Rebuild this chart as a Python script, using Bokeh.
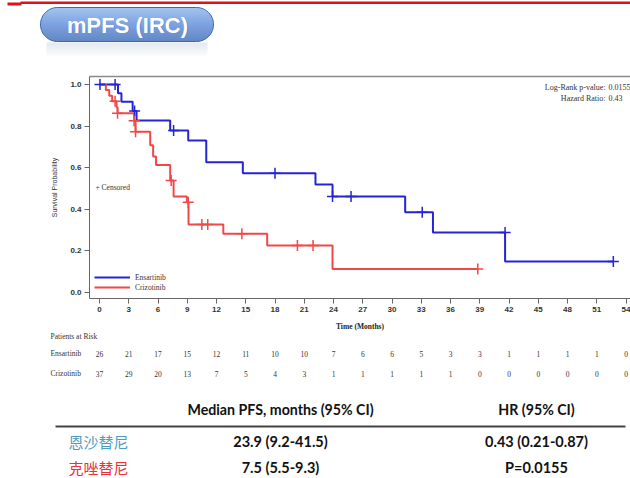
import numpy as np
from bokeh.plotting import figure
from bokeh.models import (Range1d, LinearAxis, FixedTicker, NumeralTickFormatter,
                          Legend, LegendItem)
from bokeh.core.properties import value
from bokeh.embed import file_html
from bokeh.resources import INLINE

# ---------------- data ----------------
# Kaplan-Meier PFS steps: time (months) at which survival changes, survival after it
ens_time = [0, 1.9, 2.25, 3.4, 3.8, 7.25, 9.1, 10.95, 14.7, 22.15, 23.9, 31.35, 34.2, 41.6, 52.7]
ens_surv = [1.0, 0.958, 0.917, 0.873, 0.827, 0.778, 0.730, 0.626, 0.573, 0.519, 0.461, 0.385, 0.287, 0.148, 0.148]
ens_cens_time = [0.05, 1.6, 3.6, 7.6, 18.0, 23.9, 25.8, 33.1, 41.6, 52.7]
ens_cens_surv = [1.0, 1.0, 0.873, 0.778, 0.573, 0.461, 0.461, 0.385, 0.287, 0.148]

criz_time = [0, 0.65, 1.0, 1.3, 1.75, 1.85, 3.55, 3.7, 5.2, 5.5, 5.8, 7.25, 7.6, 8.96, 9.13,
             12.7, 17.2, 23.9, 38.8]
criz_surv = [1.0, 0.973, 0.946, 0.919, 0.891, 0.862, 0.826, 0.772, 0.707, 0.653, 0.613, 0.538,
             0.461, 0.433, 0.326, 0.281, 0.225, 0.112, 0.112]
criz_cens_time = [1.6, 1.85, 3.55, 3.7, 7.35, 9.1, 10.5, 11.1, 14.6, 20.3, 21.9, 38.8]
criz_cens_surv = [0.919, 0.862, 0.826, 0.772, 0.538, 0.433, 0.326, 0.326, 0.281, 0.225, 0.225, 0.112]

x_ticks = list(range(0, 55, 3))
y_ticks = [0.0, 0.2, 0.4, 0.6, 0.8, 1.0]

risk_times = list(range(0, 55, 3))
ens_at_risk = [26, 21, 17, 15, 12, 11, 10, 10, 7, 6, 6, 5, 3, 3, 1, 1, 1, 1, 0]
criz_at_risk = [37, 29, 20, 13, 7, 5, 4, 3, 1, 1, 1, 1, 1, 0, 0, 0, 0, 0, 0]

arm_names_en = ["Ensartinib", "Crizotinib"]
arm_names_cn = ["恩沙替尼", "克唑替尼"]
median_pfs = ["23.9 (9.2-41.5)", "7.5 (5.5-9.3)"]
hr_column = ["0.43 (0.21-0.87)", "P=0.0155"]
table_headers = ["Median PFS, months (95% CI)", "HR (95% CI)"]
stat_labels = ["Log-Rank p-value:", "Hazard Ratio:"]
stat_values = ["0.0155", "0.43"]

# ---------------- page geometry ----------------
W, H = 630, 478
BLUE = "#2424d4"
RED = "#f04848"
SERIF = "Liberation Serif"
SANS = "Liberation Sans"

PX0, PPM = 99.0, 9.75      # page x of month 0, pixels per month
PY0, PPV = 291.7, 207.7    # page y of survival 0, pixels per unit survival
FR_L, FR_T, FR_R, FR_B = 89, 76, 630, 298   # plot box on the page

t_left = (FR_L - PX0) / PPM
t_right = (FR_R - PX0) / PPM
s_bottom = (PY0 - FR_B) / PPV
s_top = (PY0 - FR_T) / PPV

p = figure(width=W, height=H,
           x_range=Range1d(-PX0 / PPM, (W - PX0) / PPM),
           y_range=Range1d((PY0 - H) / PPV, PY0 / PPV),
           output_backend="svg", toolbar_location=None,
           x_axis_type=None, y_axis_type=None, min_border=0)
p.outline_line_color = None
p.grid.visible = False
p.extra_x_ranges = {"px": Range1d(0, W)}
p.extra_y_ranges = {"px": Range1d(H, 0)}
PXR = dict(x_range_name="px", y_range_name="px")

# ---------------- header with title pill ----------------
p.quad(left=20, right=W, top=1, bottom=3.5, fill_color="#e01020", line_color=None, **PXR)
p.quad(left=7, right=21, top=2, bottom=5, fill_color="#e01020", line_color=None, **PXR)

pl, pr, pt, pb = 40.0, 213.0, 7.0, 41.0
rad = (pb - pt) / 2
cy = (pt + pb) / 2
top_c = np.array([136, 176, 236])
mid_c = np.array([82, 132, 214])
bot_c = np.array([50, 96, 178])
edges = np.linspace(pt, pb, 69)
lefts, rights, tops, bots, cols = [], [], [], [], []
for a, b in zip(edges[:-1], edges[1:]):
    ym = (a + b) / 2
    dy = ym - cy
    dx = rad - np.sqrt(max(rad ** 2 - dy ** 2, 0.0))
    t = (ym - pt) / (pb - pt)
    c = top_c + (mid_c - top_c) * (t / 0.5) if t < 0.5 else mid_c + (bot_c - mid_c) * ((t - 0.5) / 0.5)
    lefts.append(pl + dx)
    rights.append(pr - dx)
    tops.append(a)
    bots.append(b + 0.05)
    cols.append("#%02x%02x%02x" % tuple(int(v) for v in c))
p.quad(left=lefts, right=rights, top=tops, bottom=bots, fill_color=cols, line_color=None, **PXR)

ang1 = np.linspace(np.pi / 2, 3 * np.pi / 2, 40)
ang2 = np.linspace(-np.pi / 2, np.pi / 2, 40)
ox = list(pl + rad + rad * np.cos(ang1)) + list(pr - rad + rad * np.cos(ang2))
oy = list(cy - rad * np.sin(ang1)) + list(cy - rad * np.sin(ang2))
p.patch(ox, oy, fill_color=None, line_color="#3b66ad", line_width=1, **PXR)

# soft reflection under the pill
refl = np.linspace(42, 57, 16)
p.quad(left=46, right=207, top=list(refl[:-1]), bottom=list(refl[1:]),
       fill_color="#c9d3e4", fill_alpha=list(np.linspace(0.55, 0.0, 15)), line_color=None, **PXR)

p.text(x=[127.8], y=[25.3], text=["mPFS (IRC)"], text_font=value(SANS), text_font_style="bold",
       text_font_size="22px", text_color="#2b4e8c", text_alpha=0.45,
       text_align="center", text_baseline="middle", **PXR)
p.text(x=[127], y=[24.5], text=["mPFS (IRC)"], text_font=value(SANS), text_font_style="bold",
       text_font_size="22px", text_color="white",
       text_align="center", text_baseline="middle", **PXR)

# ---------------- Kaplan-Meier plot ----------------
xax = LinearAxis(ticker=FixedTicker(ticks=x_ticks), fixed_location=s_bottom,
                 bounds=(t_left, t_right), axis_label="Time (Months)")
yax = LinearAxis(ticker=FixedTicker(ticks=y_ticks), fixed_location=t_left,
                 bounds=(s_bottom, s_top), formatter=NumeralTickFormatter(format="0.0"),
                 axis_label="Survival Probability")
for ax in (xax, yax):
    ax.axis_line_color = "#666666"
    ax.major_tick_line_color = "#666666"
    ax.major_tick_out = 5
    ax.major_tick_in = 0
    ax.minor_tick_line_color = None
    ax.major_label_text_font = SANS
    ax.major_label_text_font_style = "bold"
    ax.major_label_text_font_size = "8px"
    ax.major_label_text_color = "#333333"
xax.major_label_standoff = 3
xax.axis_label_text_font = SERIF
xax.axis_label_text_font_style = "bold"
xax.axis_label_text_font_size = "7.5px"
xax.axis_label_text_color = "#222222"
xax.axis_label_standoff = 7
yax.major_label_standoff = 3
yax.axis_label_text_font = SANS
yax.axis_label_text_font_style = "normal"
yax.axis_label_text_font_size = "7px"
yax.axis_label_text_color = "#333333"
yax.axis_label_standoff = 9
p.add_layout(xax, "below")
p.add_layout(yax, "left")

# top edge of the plot box
p.segment(x0=[t_left], y0=[s_top], x1=[t_right], y1=[s_top], line_color="#8a8a8a", line_width=1.5)

r_ens = p.step(ens_time, ens_surv, mode="after", line_color=BLUE, line_width=2)
r_criz = p.step(criz_time, criz_surv, mode="after", line_color=RED, line_width=2)
p.scatter(ens_cens_time, ens_cens_surv, marker="cross", size=11, line_color=BLUE, line_width=1.5)
p.scatter(criz_cens_time, criz_cens_surv, marker="cross", size=11, line_color=RED, line_width=1.5)

legend = Legend(items=[LegendItem(label=arm_names_en[0], renderers=[r_ens]),
                       LegendItem(label=arm_names_en[1], renderers=[r_criz])],
                location=(94, H - 292), glyph_width=36, glyph_height=10, label_height=10,
                label_standoff=5, spacing=0, padding=0, margin=0,
                border_line_color=None, background_fill_alpha=0,
                label_text_font=SERIF, label_text_font_size="7.5px",
                label_text_color="#333333")
p.add_layout(legend)

p.text(x=[95], y=[186.5], text=["+ Censored"], text_font=value(SERIF), text_font_size="7.5px",
       text_color="#333333", text_baseline="middle", **PXR)
p.text(x=[605, 605], y=[86.5, 97.5], text=stat_labels, text_font=value(SERIF),
       text_font_size="8px", text_color="#333333", text_align="right",
       text_baseline="middle", **PXR)
p.text(x=[608, 608], y=[86.5, 97.5], text=stat_values, text_font=value(SERIF),
       text_font_size="8px", text_color="#333333", text_align="left",
       text_baseline="middle", **PXR)

# ---------------- patients at risk ----------------
ROW_Y = [353, 373]
for counts, yy in zip([ens_at_risk, criz_at_risk], ROW_Y):
    p.text(x=risk_times, y=[yy] * len(risk_times), text=[str(c) for c in counts],
           text_font=value(SERIF), text_font_size="7.5px", text_color="#333333",
           text_align="center", text_baseline="middle", y_range_name="px")
p.text(x=[50, 50, 50], y=[336] + ROW_Y, text=["Patients at Risk"] + arm_names_en,
       text_font=value(SERIF), text_font_size="7.5px", text_color="#333333",
       text_baseline="middle", **PXR)

# ---------------- summary table ----------------
COL_X = [280, 536]
p.text(x=COL_X, y=[409, 409], text=table_headers, text_font=value("Lato"),
       text_font_style="bold", text_font_size="14.2px", text_color="#111111",
       text_align="center", text_baseline="middle", **PXR)
p.segment(x0=[55], y0=[426], x1=[625], y1=[426], line_color="#444444", line_width=2.2, **PXR)
ROWS_Y = [441, 467]
p.text(x=[68, 68], y=ROWS_Y, text=arm_names_cn, text_font=value("Noto Sans CJK SC"),
       text_font_size="15px", text_color=["#4d9ec2", "#e8323a"],
       text_align="left", text_baseline="middle", **PXR)
p.text(x=[COL_X[0]] * 2, y=ROWS_Y, text=median_pfs, text_font=value("Lato"),
       text_font_style="bold", text_font_size="14.5px", text_color="#111111",
       text_align="center", text_baseline="middle", **PXR)
p.text(x=[COL_X[1]] * 2, y=ROWS_Y, text=hr_column, text_font=value("Lato"),
       text_font_style="bold", text_font_size="14.5px", text_color="#111111",
       text_align="center", text_baseline="middle", **PXR)

open("out.html", "w").write(file_html(p, INLINE))
